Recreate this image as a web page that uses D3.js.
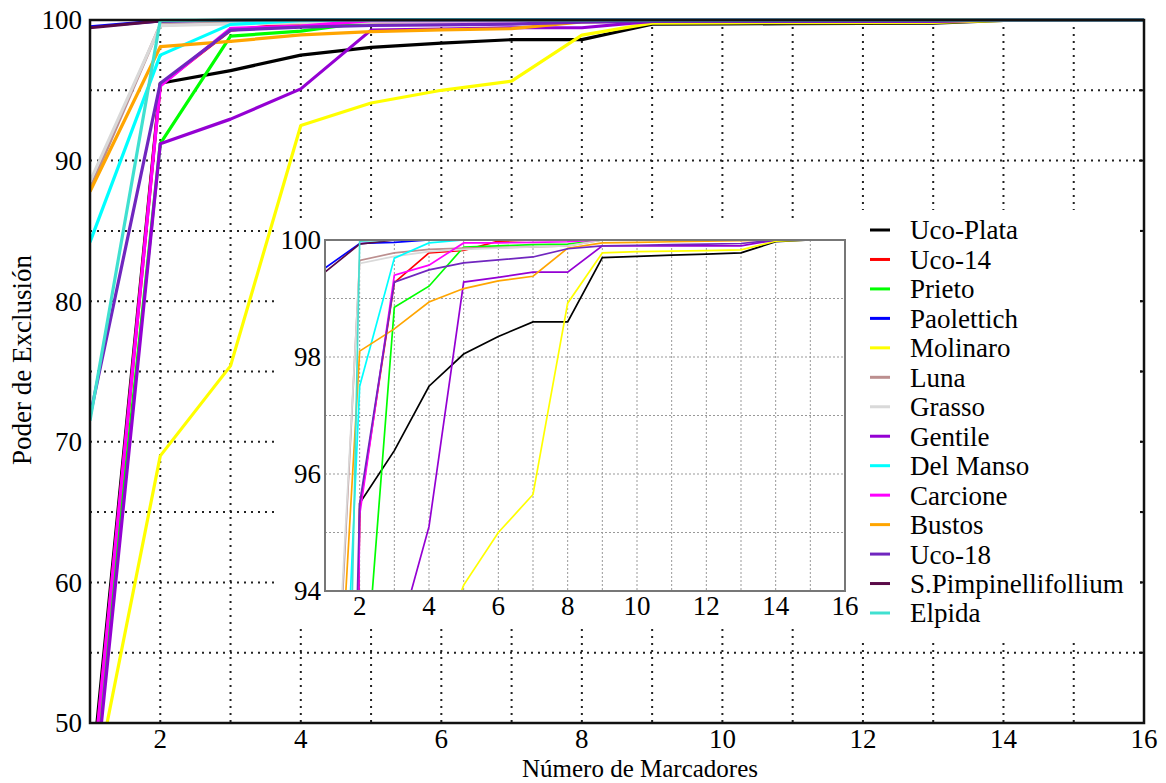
<!DOCTYPE html>
<html>
<head>
<meta charset="utf-8">
<script src="https://cdn.jsdelivr.net/npm/d3@7"></script>
<style>
  body { margin: 0; background: #fff; }
  svg { display: block; font-family: "Liberation Serif", "Times New Roman", serif; }
</style>
</head>
<body>
<svg id="chart" width="1166" height="783"></svg>
<script>
// numero de marcadores
const markers = [1, 2, 3, 4, 5, 6, 7, 8, 9, 10, 11, 12, 13, 14, 15, 16]

const names = ["Uco-Plata", "Uco-14", "Prieto", "Paolettich", "Molinaro", "Luna", "Grasso",
  "Gentile", "Del Manso", "Carcione", "Bustos", "Uco-18", "S.Pimpinellifollium", "Elpida"]

const colors = ["#000000", "#ff0000", "#00ff00", "#0000ff", "#ffff00", "#bc8f8f", "#d9d9d9",
  "#9400d3", "#00ffff", "#ff00ff", "#ffa500", "#7026bf", "#5a0a48", "#40e0d0"]

const ucoPlata = [45, 95.5, 96.4, 97.5, 98.05, 98.35, 98.6, 98.6, 99.7, 99.72, 99.74, 99.76, 99.78, 99.97, 100, 100]
const uco14 = [44, 95.4, 99.27, 99.78, 99.82, 99.98, 100, 100, 100, 100, 100, 100, 100, 100, 100, 100]
const prieto = [44, 91.2, 98.85, 99.21, 99.88, 99.9, 99.92, 99.93, 100, 100, 100, 100, 100, 100, 100, 100]
const paolettich = [99.52, 99.94, 99.96, 100, 100, 100, 100, 100, 100, 100, 100, 100, 100, 100, 100, 100]
const molinaro = [43.9, 69, 75.4, 92.5, 94.1, 95.0, 95.65, 98.92, 99.78, 99.8, 99.81, 99.82, 99.83, 99.98, 100, 100]
const luna = [88, 99.65, 99.78, 99.84, 99.86, 99.87, 99.88, 99.9, 100, 100, 100, 100, 100, 100, 100, 100]
const grasso = [88.5, 99.6, 99.72, 99.8, 99.84, 99.86, 99.88, 99.9, 100, 100, 100, 100, 100, 100, 100, 100]
const gentile = [42, 91.2, 92.95, 95.1, 99.28, 99.36, 99.45, 99.45, 99.9, 99.9, 99.9, 99.9, 99.9, 100, 100, 100]
const delManso = [84.2, 97.5, 99.69, 99.95, 100, 100, 100, 100, 100, 100, 100, 100, 100, 100, 100, 100]
const carcione = [44.2, 95.3, 99.4, 99.57, 99.95, 99.95, 99.96, 99.97, 100, 100, 100, 100, 100, 100, 100, 100]
const bustos = [87.8, 98.1, 98.48, 98.94, 99.17, 99.3, 99.38, 99.86, 99.95, 99.96, 99.97, 99.98, 99.99, 100, 100, 100]
const uco18 = [71.8, 95.5, 99.28, 99.49, 99.61, 99.66, 99.71, 99.85, 99.9, 99.91, 99.92, 99.93, 99.94, 100, 100, 100]
const sPimpinellifollium = [99.45, 99.93, 100, 100, 100, 100, 100, 100, 100, 100, 100, 100, 100, 100, 100, 100]
const elpida = [71.5, 99.98, 100, 100, 100, 100, 100, 100, 100, 100, 100, 100, 100, 100, 100, 100]

const seriesValues = [ucoPlata, uco14, prieto, paolettich, molinaro, luna, grasso,
  gentile, delManso, carcione, bustos, uco18, sPimpinellifollium, elpida]

const xTicks = [2, 4, 6, 8, 10, 12, 14, 16]
const yTicks = [50, 60, 70, 80, 90, 100]
const yGrid = [55, 60, 65, 70, 75, 80, 85, 90, 95]
const insetYTicks = [94, 96, 98, 100]
const insetYGrid = [95, 96, 97, 98, 99]

const series = names.map((n, i) => ({
  name: n,
  color: colors[i],
  values: markers.map((m, j) => ({ x: m, y: seriesValues[i][j] })),
}))

const svg = d3.select("#chart")
const fontSize = 27

// main plot
const x = d3.scaleLinear().domain([1, 16]).range([90, 1144])
const y = d3.scaleLinear().domain([50, 100]).range([723, 20])

svg.append("defs").append("clipPath").attr("id", "clip_main")
  .append("rect")
  .attr("x", x(1)).attr("y", y(100) - 2)
  .attr("width", x(16) - x(1)).attr("height", y(50) - y(100) + 2)

let g_grid = svg.append("g")
g_grid.selectAll(".vgrid").data(markers.slice(1, 15)).join("line")
  .attr("class", "vgrid")
  .attr("x1", (d) => x(d)).attr("x2", (d) => x(d))
  .attr("y1", y(100)).attr("y2", y(50))
g_grid.selectAll(".hgrid").data(yGrid).join("line")
  .attr("class", "hgrid")
  .attr("x1", x(1)).attr("x2", x(16))
  .attr("y1", (d) => y(d)).attr("y2", (d) => y(d))
g_grid.selectAll("line")
  .attr("stroke", "#222")
  .attr("stroke-width", 2)
  .attr("stroke-dasharray", "2,5")

const line = d3.line().x((d) => x(d.x)).y((d) => y(d.y))

svg.append("g")
  .attr("clip-path", "url(#clip_main)")
  .selectAll(".main_line").data(series).join("path")
  .attr("class", "main_line")
  .attr("fill", "none")
  .attr("stroke", (d) => d.color)
  .attr("stroke-width", 3.2)
  .attr("stroke-linejoin", "round")
  .attr("d", (d) => line(d.values))

// frame and ticks
svg.append("rect")
  .attr("x", x(1)).attr("y", y(100))
  .attr("width", x(16) - x(1)).attr("height", y(50) - y(100))
  .attr("fill", "none").attr("stroke", "#111").attr("stroke-width", 2.5)

svg.append("g").selectAll(".rtick").data(yGrid).join("line")
  .attr("x1", x(16) - 5).attr("x2", x(16))
  .attr("y1", (d) => y(d)).attr("y2", (d) => y(d))
  .attr("stroke", "#111").attr("stroke-width", 2)

svg.append("g").selectAll(".ylab").data(yTicks).join("text")
  .attr("x", 82).attr("y", (d) => y(d))
  .attr("dy", "0.35em")
  .attr("text-anchor", "end")
  .attr("font-size", fontSize)
  .text((d) => d)

svg.append("g").selectAll(".xlab").data(xTicks).join("text")
  .attr("x", (d) => x(d)).attr("y", 748)
  .attr("text-anchor", "middle")
  .attr("font-size", fontSize)
  .text((d) => d)

svg.append("text")
  .attr("x", 640).attr("y", 777)
  .attr("text-anchor", "middle")
  .attr("font-size", 25)
  .text("Número de Marcadores")

svg.append("text")
  .attr("transform", "translate(31," + 360 + ") rotate(-90)")
  .attr("text-anchor", "middle")
  .attr("font-size", fontSize)
  .text("Poder de Exclusión")

// inset
const xi = d3.scaleLinear().domain([1, 16]).range([325, 845])
const yi = d3.scaleLinear().domain([94, 100]).range([591, 240])

let g_inset = svg.append("g")
g_inset.append("rect")
  .attr("x", 278).attr("y", 222).attr("width", 580).attr("height", 402)
  .attr("fill", "#fff")

g_inset.append("defs").append("clipPath").attr("id", "clip_inset")
  .append("rect")
  .attr("x", xi(1)).attr("y", yi(100) - 1)
  .attr("width", xi(16) - xi(1)).attr("height", yi(94) - yi(100) + 1)

g_inset.selectAll(".ivgrid").data(markers.slice(1, 15)).join("line")
  .attr("class", "igrid")
  .attr("x1", (d) => xi(d)).attr("x2", (d) => xi(d))
  .attr("y1", yi(100)).attr("y2", yi(94))
g_inset.selectAll(".ihgrid").data(insetYGrid).join("line")
  .attr("class", "igrid")
  .attr("x1", xi(1)).attr("x2", xi(16))
  .attr("y1", (d) => yi(d)).attr("y2", (d) => yi(d))
g_inset.selectAll(".igrid")
  .attr("stroke", "#999")
  .attr("stroke-width", 1)
  .attr("stroke-dasharray", "2,2")

const lineInset = d3.line().x((d) => xi(d.x)).y((d) => yi(d.y))

g_inset.append("g")
  .attr("clip-path", "url(#clip_inset)")
  .selectAll(".inset_line").data(series).join("path")
  .attr("class", "inset_line")
  .attr("fill", "none")
  .attr("stroke", (d) => d.color)
  .attr("stroke-width", 1.7)
  .attr("d", (d) => lineInset(d.values))

g_inset.append("rect")
  .attr("x", xi(1)).attr("y", yi(100))
  .attr("width", xi(16) - xi(1)).attr("height", yi(94) - yi(100))
  .attr("fill", "none").attr("stroke", "#777").attr("stroke-width", 2)

g_inset.selectAll(".iylab").data(insetYTicks).join("text")
  .attr("x", 321).attr("y", (d) => yi(d))
  .attr("dy", "0.35em")
  .attr("text-anchor", "end")
  .attr("font-size", fontSize)
  .text((d) => d)

g_inset.selectAll(".ixlab").data(xTicks).join("text")
  .attr("x", (d) => xi(d)).attr("y", 615)
  .attr("text-anchor", "middle")
  .attr("font-size", fontSize)
  .text((d) => d)

// legend
let legend = svg.append("g")
legend.append("rect")
  .attr("x", 858).attr("y", 210).attr("width", 282).attr("height", 433)
  .attr("fill", "#fff")

const ly = d3.scalePoint().domain(names).range([230, 613])

let legend_items = legend.selectAll(".legend_item").data(series).join("g")
  .attr("class", "legend_item")
  .attr("transform", (d) => `translate(0, ${ly(d.name)})`)

legend_items.append("line")
  .attr("x1", 870).attr("x2", 890)
  .attr("stroke", (d) => d.color)
  .attr("stroke-width", 3)

legend_items.append("text")
  .attr("x", 910)
  .attr("dy", "0.35em")
  .attr("font-size", fontSize)
  .text((d) => d.name)
</script>
</body>
</html>
